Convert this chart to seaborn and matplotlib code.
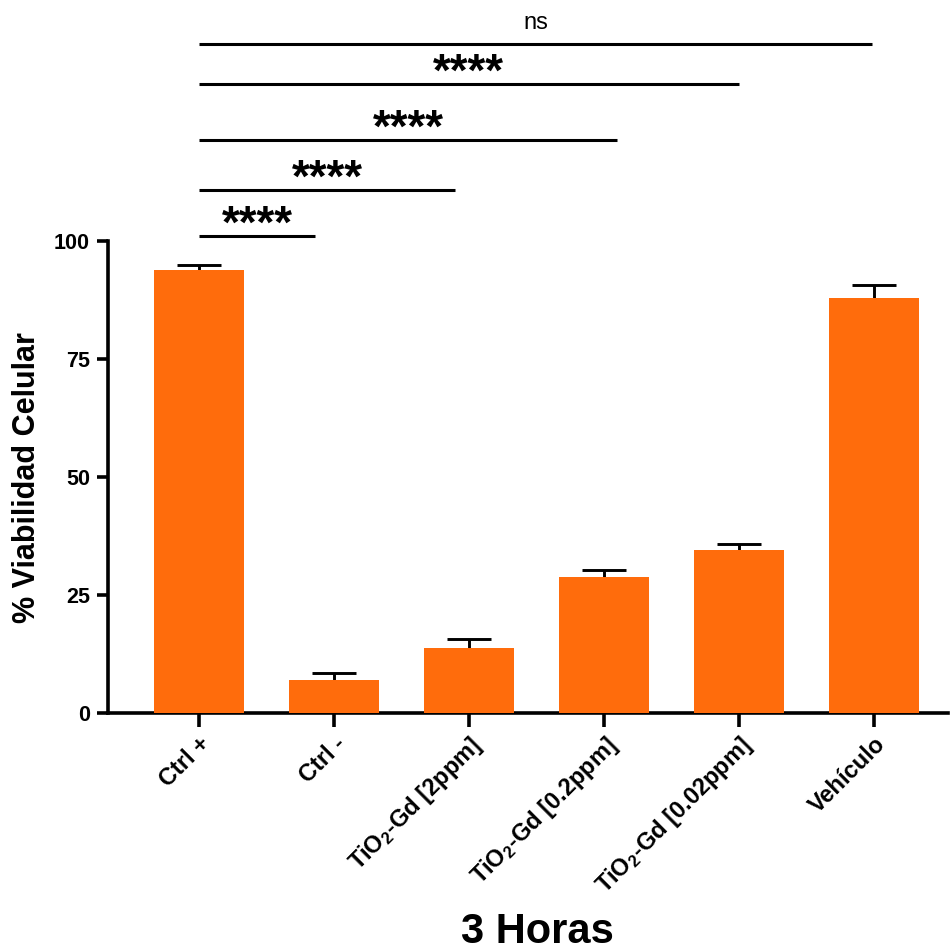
import matplotlib
matplotlib.use("Agg")
import matplotlib.pyplot as plt
import matplotlib.transforms as mtransforms
import seaborn as sns
import pandas as pd
import numpy as np

categories = ["Ctrl +", "Ctrl -", "TiO$_{2}$-Gd [2ppm]", "TiO$_{2}$-Gd [0.2ppm]",
              "TiO$_{2}$-Gd [0.02ppm]", "Vehículo"]
means = [93.9, 6.9, 13.7, 28.9, 34.5, 87.9]
errors = [1.0, 1.5, 2.0, 1.3, 1.4, 2.8]
yticks = [0, 25, 50, 75, 100]

# significance comparisons against "Ctrl +": end position, height, label
comp_end = [0.86, 1.90, 3.10, 4.00, 4.99]
comp_y = [101.1, 110.8, 121.4, 133.3, 141.7]
comp_labels = ["****", "****", "****", "****", "ns"]

sns.set_style("ticks")
plt.rcParams['font.family'] = ['Liberation Sans', 'DejaVu Sans']
plt.rcParams['mathtext.fontset'] = 'custom'
plt.rcParams['mathtext.bf'] = 'Liberation Sans:bold'
plt.rcParams['mathtext.rm'] = 'Liberation Sans:bold'
plt.rcParams['mathtext.default'] = 'bf'
for k in ['text.color', 'axes.labelcolor', 'xtick.color', 'ytick.color',
          'axes.edgecolor']:
    plt.rcParams[k] = 'black'

df = pd.DataFrame({"cat": categories, "val": means})
color = "#FF6C0C"

fig = plt.figure(figsize=(9.51, 9.51), dpi=100)
ax = fig.add_axes([108/951, 1 - 713/951, (948-108)/951, 713/951])

sns.barplot(data=df, x="cat", y="val", color=color, saturation=1, width=0.667,
            errorbar=None, ax=ax, zorder=3, linewidth=0)
xs = np.arange(len(categories))
ax.errorbar(xs, means, yerr=errors, fmt='none',
            ecolor='black', elinewidth=2.1, capsize=16, capthick=2.1, zorder=1)

ax.set_xlim(-0.674, 5.55)
ax.set_ylim(0, 713/4.72)
ax.set_yticks(yticks)
ax.set_yticklabels([str(t) for t in yticks], fontsize=15.5, fontweight='bold')
ax.set_xticks(xs)
ax.set_xticklabels(categories, fontsize=17, fontweight='bold', rotation=45,
                   ha='right', rotation_mode='anchor')
offset = mtransforms.ScaledTranslation(-6/100, -3/100, fig.dpi_scale_trans)
for lbl in ax.get_xticklabels():
    lbl.set_transform(lbl.get_transform() + offset)
ax.spines['top'].set_visible(False)
ax.spines['right'].set_visible(False)
ax.spines['left'].set_bounds(0, 100)
for s in ['left', 'bottom']:
    ax.spines[s].set_linewidth(2.6)
    ax.spines[s].set_color('black')
ax.tick_params(axis='y', width=2.6, length=8, pad=5, color='black',
               labelcolor='black')
ax.tick_params(axis='x', width=2.6, length=10, pad=4, color='black',
               labelcolor='black')
ax.set_xlabel("")
ax.set_ylabel("")
fig.text(27/951, 1 - 478/951, "% Viabilidad Celular", rotation=90, ha='center',
         va='center', fontsize=22, fontweight='bold', color='black')

for end, y, lab in zip(comp_end, comp_y, comp_labels):
    ax.plot([0.0, end], [y, y], color='black', lw=2.2, solid_capstyle='butt',
            clip_on=False)
    if lab == "ns":
        ax.text(end/2, y + 3.2, lab, ha='center', va='baseline', fontsize=17,
                fontweight='normal', color='black')
    else:
        ax.text(end/2, y - 0.4, lab, ha='center', va='baseline', fontsize=33,
                fontweight='bold', color='black')

fig.text(537/951, 1 - 932/951, "3 Horas", ha='center', va='center',
         fontsize=30, fontweight='bold', color='black')

fig.savefig("out.png", dpi=100)
